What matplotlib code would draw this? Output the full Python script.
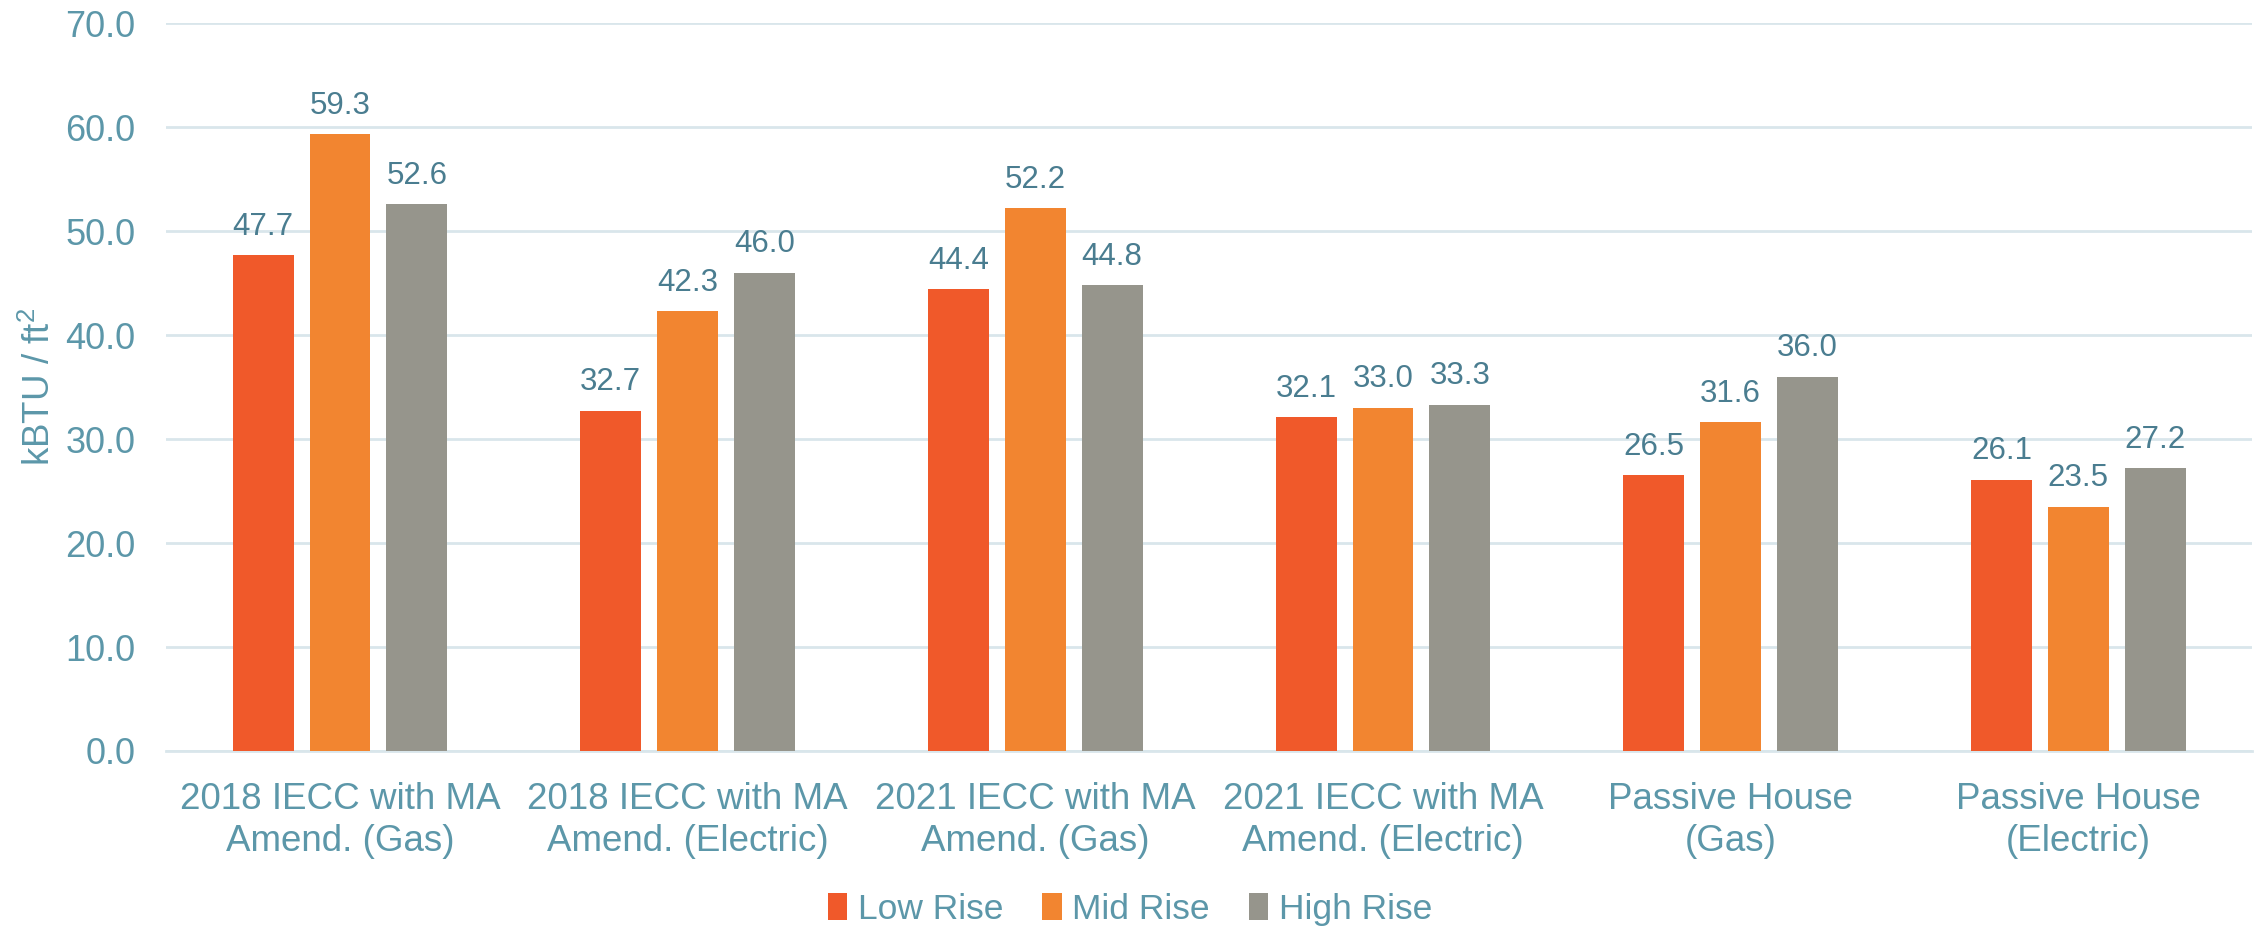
import matplotlib

matplotlib.use('Agg')

import matplotlib.pyplot as plt
import numpy as np

plt.rcParams['font.family'] = ['Liberation Sans', 'DejaVu Sans']
plt.rcParams['mathtext.fontset'] = 'custom'
plt.rcParams['mathtext.rm'] = 'Liberation Sans'
plt.rcParams['mathtext.default'] = 'rm'

categories = [
    "2018 IECC with MA\nAmend. (Gas)",
    "2018 IECC with MA\nAmend. (Electric)",
    "2021 IECC with MA\nAmend. (Gas)",
    "2021 IECC with MA\nAmend. (Electric)",
    "Passive House\n(Gas)",
    "Passive House\n(Electric)",
]
series_names = ["Low Rise", "Mid Rise", "High Rise"]
low_rise = [47.7, 32.7, 44.4, 32.1, 26.5, 26.1]
mid_rise = [59.3, 42.3, 52.2, 33.0, 31.6, 23.5]
high_rise = [52.6, 46.0, 44.8, 33.3, 36.0, 27.2]
y_ticks = [0, 10, 20, 30, 40, 50, 60, 70]

colors = ['#F0592A', '#F28530', '#96958C']
tick_color = '#5C97A9'
label_color = '#4A7D90'
grid_color = '#D9E6EB'

fig = plt.figure(figsize=(22.6, 9.26), dpi=100)
ax = fig.add_axes([0.0735, 0.189, 0.923, 0.786])

x = np.arange(len(categories))
width = 0.175
step = 0.221

for i, (name, vals) in enumerate(zip(series_names, [low_rise, mid_rise, high_rise])):
    pos = x + (i - 1) * step
    bars = ax.bar(pos, vals, width, color=colors[i], label=name, zorder=3)
    for b, v in zip(bars, vals):
        ax.text(b.get_x() + b.get_width() / 2, v + 1.3, f"{v:.1f}",
                ha='center', va='bottom', fontsize=22.5, color=label_color)

ax.set_xlim(-0.5, len(categories) - 0.5)
ax.set_ylim(0, 70)
ax.set_yticks(y_ticks)
ax.set_yticklabels([f"{t:.1f}" for t in y_ticks])
ax.set_xticks(x)
ax.set_xticklabels(categories, fontsize=26.5, color=tick_color, linespacing=1.27)
ax.tick_params(axis='y', labelsize=26, colors=tick_color, length=0, pad=22)
ax.tick_params(axis='x', length=0, pad=22)

ax.grid(axis='y', color=grid_color, linewidth=2, zorder=0)
for s in ['top', 'right', 'left']:
    ax.spines[s].set_visible(False)
ax.spines['bottom'].set_color(grid_color)
ax.spines['bottom'].set_linewidth(2)

ax.set_ylabel("kBTU / ft$^2$", fontsize=26.5, color=tick_color)
ax.yaxis.set_label_coords(-0.052, 0.5)

leg = fig.legend(loc='lower center', bbox_to_anchor=(0.5, 0.0), ncol=3,
                 frameon=False, fontsize=25.5, handlelength=0.55, handleheight=0.8,
                 handletextpad=0.3, columnspacing=1.1, borderpad=0.0,
                 borderaxespad=0.0)
for t in leg.get_texts():
    t.set_color(tick_color)

fig.savefig('out.png', dpi=100)
